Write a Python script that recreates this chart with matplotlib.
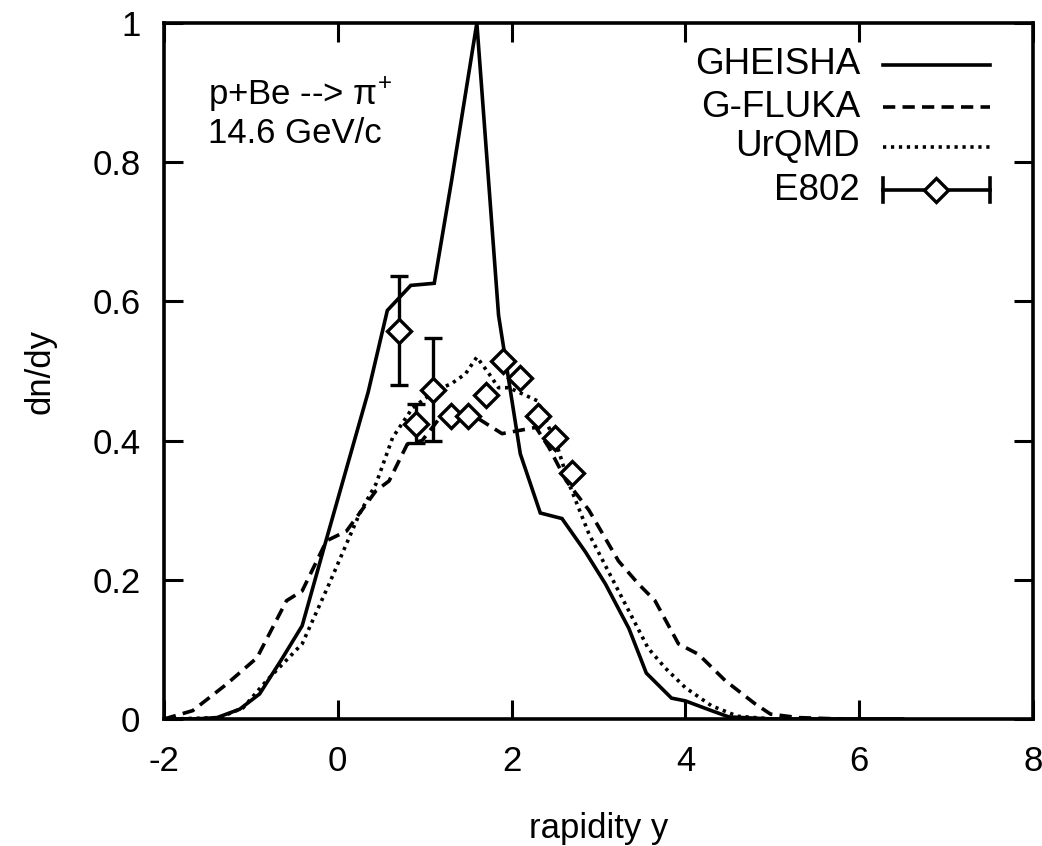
import matplotlib
matplotlib.use("Agg")
import matplotlib.pyplot as plt
import numpy as np

plt.rcParams['font.family'] = ['Liberation Sans', 'DejaVu Sans']
plt.rcParams['mathtext.fontset'] = 'custom'
plt.rcParams['mathtext.rm'] = 'Liberation Sans'
plt.rcParams['mathtext.default'] = 'regular'
plt.rcParams['axes.unicode_minus'] = False

# ---- data ----
gheisha_x = [-1.97, -1.65, -1.39, -1.13, -0.9, -0.65, -0.41, -0.15, 0.1, 0.35, 0.57, 0.84,
             1.11, 1.31, 1.6, 1.85, 2.1, 2.33, 2.58, 2.85, 3.08, 3.35, 3.55, 3.84, 4.0,
             4.3, 4.5, 5.0, 6.5]
gheisha_y = [0.0, 0.0, 0.002, 0.014, 0.036, 0.085, 0.134, 0.25, 0.36, 0.47, 0.587, 0.623,
             0.626, 0.774, 1.0, 0.58, 0.381, 0.296, 0.288, 0.24, 0.194, 0.13, 0.066, 0.03, 0.026,
             0.012, 0.003, 0.0, 0.0]

gfluka_x = [-2.0, -1.67, -1.28, -0.93, -0.59, -0.41, -0.13, 0.1, 0.44, 0.59, 0.8, 0.97,
            1.22, 1.51, 1.89, 2.28, 2.43, 2.63, 2.89, 3.23, 3.46, 3.65, 3.92, 4.15, 4.46,
            4.8, 4.98, 5.3, 5.8]
gfluka_y = [0.0, 0.012, 0.05, 0.088, 0.17, 0.184, 0.256, 0.27, 0.328, 0.342, 0.395, 0.40,
            0.44, 0.44, 0.41, 0.419, 0.39, 0.342, 0.30, 0.227, 0.194, 0.17, 0.108, 0.093, 0.055,
            0.022, 0.007, 0.002, 0.0]

urqmd_x = [-1.9, -1.36, -1.09, -0.82, -0.41, -0.1, 0.25, 0.44, 0.63, 0.86, 1.13, 1.31,
           1.47, 1.6, 1.74, 1.85, 1.97, 2.3, 2.54, 2.66, 2.89, 3.23, 3.57, 3.77, 4.0, 4.3,
           4.6, 5.0]
urqmd_y = [0.0, 0.002, 0.016, 0.055, 0.108, 0.194, 0.295, 0.338, 0.404, 0.447, 0.472, 0.482,
           0.496, 0.52, 0.496, 0.476, 0.476, 0.457, 0.386, 0.338, 0.266, 0.184, 0.102, 0.073,
           0.045, 0.019, 0.004, 0.0]

e802_x = [0.7, 0.9, 1.1, 1.3, 1.5, 1.7, 1.9, 2.1, 2.3, 2.5, 2.7]
e802_y = [0.558, 0.424, 0.473, 0.436, 0.436, 0.465, 0.515, 0.49, 0.436, 0.404, 0.354]
e802_err = [0.078, 0.028, 0.074, 0.004, 0.004, 0.004, 0.004, 0.004, 0.004, 0.004, 0.004]

x_ticks = [-2, 0, 2, 4, 6, 8]
y_ticks = [0, 0.2, 0.4, 0.6, 0.8, 1.0]
y_tick_labels = ["0", "0.2", "0.4", "0.6", "0.8", "1"]

# ---- figure ----
W, H = 1042, 846
fig = plt.figure(figsize=(W / 100, H / 100), dpi=100)
L, R, T, B = 164, 1033, 23, 719
ax = fig.add_axes([L / W, (H - B) / H, (R - L) / W, (B - T) / H])

lw = 2.6
ax.plot(gheisha_x, gheisha_y, color='black', lw=lw, solid_joinstyle='miter')
ax.plot(gfluka_x, gfluka_y, color='black', lw=lw, dashes=(3.4, 2.0))
ax.plot(urqmd_x, urqmd_y, color='black', lw=lw, dashes=(0.9, 1.3))
ax.errorbar(e802_x, e802_y, yerr=e802_err, fmt='D', color='black', mfc='white',
            mec='black', mew=2.4, ms=12, capsize=6.5, capthick=2.4, elinewidth=2.4,
            zorder=5)

ax.set_xlim(-2, 8)
ax.set_ylim(0, 1)
ax.set_xticks(x_ticks)
ax.set_xticklabels([str(v) for v in x_ticks])
ax.set_yticks(y_ticks)
ax.set_yticklabels(y_tick_labels)
ax.tick_params(direction='in', length=14, width=2.2, top=True, right=True,
               labelsize=25, pad=19)
ax.tick_params(axis='y', pad=17)
for s in ax.spines.values():
    s.set_linewidth(2.6)

ax.set_xlabel('rapidity y', fontsize=25, labelpad=24)
ax.set_ylabel('dn/dy', fontsize=25, labelpad=26)

# annotation
ax.text(0.0506, 0.882, r'p+Be --> π$^{+}$', transform=ax.transAxes, fontsize=25,
        ha='left', va='baseline')
ax.text(0.0506, 0.828, '14.6 GeV/c', transform=ax.transAxes, fontsize=25,
        ha='left', va='baseline')

# legend (gnuplot style)
names = ['GHEISHA', 'G-FLUKA', 'UrQMD', 'E802']
rows = [0.940, 0.879, 0.822, 0.760]
tx, l0, l1 = 0.801, 0.827, 0.9505
styles = [dict(), dict(dashes=(3.4, 2.0)), dict(dashes=(0.9, 1.3))]
for name, yy, st in zip(names, rows, styles + [dict()]):
    ax.text(tx, yy, name, transform=ax.transAxes, fontsize=26.5, ha='right', va='center')
    ax.plot([l0, l1], [yy, yy], transform=ax.transAxes, color='black', lw=lw,
            clip_on=False, **st)
yy = rows[3]
cap = 0.017
for xc in (l0, l1):
    ax.plot([xc, xc], [yy - cap, yy + cap], transform=ax.transAxes, color='black',
            lw=lw, clip_on=False)
ax.plot([(l0 + l1) / 2], [yy], 'D', transform=ax.transAxes, mfc='white', mec='black',
        mew=2.4, ms=12, clip_on=False, zorder=6)

fig.savefig('out.png', dpi=100)
